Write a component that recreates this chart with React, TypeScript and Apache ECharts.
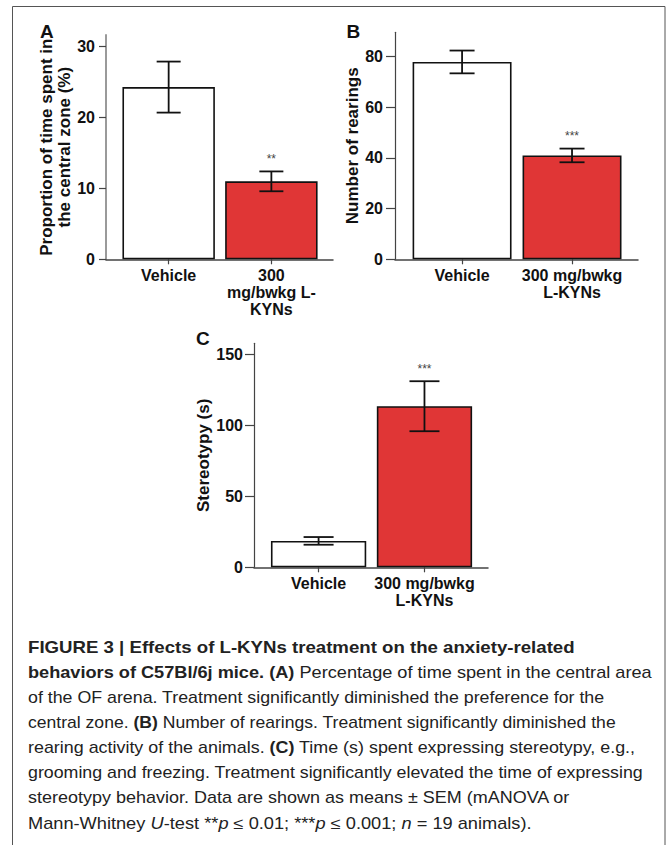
import React, { useEffect, useRef } from "react";
import * as echarts from "echarts";

// ---------- data ----------
const categories = ["Vehicle", "300 mg/bwkg L-KYNs"];
const xLabelsA = ["Vehicle", "300\nmg/bwkg L-\nKYNs"];
const xLabelsBC = ["Vehicle", "300 mg/bwkg\nL-KYNs"];

const meanA = [24.3, 11.0];
const semA = [3.6, 1.4];
const sigA = ["", "**"];
const yTicksA = [0, 10, 20, 30];

const meanB = [77.9, 41.0];
const semB = [4.5, 2.7];
const sigB = ["", "***"];
const yTicksB = [0, 20, 40, 60, 80];

const meanC = [18.6, 113.4];
const semC = [2.7, 17.6];
const sigC = ["", "***"];
const yTicksC = [0, 50, 100, 150];

const barColors = ["#ffffff", "#e03636"];

const captionLines: [string, string][][] = [
  [["b", "FIGURE 3 | Effects of L-KYNs treatment on the anxiety-related"]],
  [["b", "behaviors of C57Bl/6j mice. (A)"], ["n", " Percentage of time spent in the central area"]],
  [["n", "of the OF arena. Treatment significantly diminished the preference for the"]],
  [["n", "central zone. "], ["b", "(B)"], ["n", " Number of rearings. Treatment significantly diminished the"]],
  [["n", "rearing activity of the animals. "], ["b", "(C)"], ["n", " Time (s) spent expressing stereotypy, e.g.,"]],
  [["n", "grooming and freezing. Treatment significantly elevated the time of expressing"]],
  [["n", "stereotypy behavior. Data are shown as means \u00b1 SEM (mANOVA or"]],
  [
    ["n", "Mann-Whitney "], ["i", "U"], ["n", "-test **"], ["i", "p"], ["n", " \u2264 0.01; ***"],
    ["i", "p"], ["n", " \u2264 0.001; "], ["i", "n"], ["n", " = 19 animals)."],
  ],
];

// ---------- layout ----------
const FONT = '"Liberation Sans", Arial, Helvetica, sans-serif';
const CAP_SIZE = 16;
const captionX = 28;
const captionY0 = 647.5;
const captionStep = 25.07;
const captionEnds = [575, 651.7, 605, 616, 635.3, 643.3, 571, 531.7];

const panels = [
  {
    mean: meanA, sem: semA, sig: sigA, ticks: yTicksA, labels: xLabelsA,
    name: "Proportion of time spent in\nthe central zone (%)",
    grid: { left: 106, top: 35, width: 227, height: 224.3 },
    yMax: 31.65, interval: 10, nameGap: 31, yColor: "#9a9a9a", yWidth: 2,
    tickLen: 7, labelMargin: 11, cap: 24, starGap: 6,
  },
  {
    mean: meanB, sem: semB, sig: sigB, ticks: yTicksB, labels: xLabelsBC,
    name: "Number of rearings",
    grid: { left: 395, top: 32.3, width: 243, height: 227 },
    yMax: 89.6, interval: 20, nameGap: 32, yColor: "#444", yWidth: 1.2,
    tickLen: 9, labelMargin: 12, cap: 25, starGap: 7,
  },
  {
    mean: meanC, sem: semC, sig: sigC, ticks: yTicksC, labels: xLabelsBC,
    name: "Stereotypy (s)",
    grid: { left: 254, top: 343.3, width: 234, height: 224 },
    yMax: 157.7, interval: 50, nameGap: 41, yColor: "#444", yWidth: 1.2,
    tickLen: 9, labelMargin: 11, cap: 30, starGap: 6,
  },
];

const panelLetters = [
  { t: "A", x: 40, y: 22 },
  { t: "B", x: 346.5, y: 22 },
  { t: "C", x: 196, y: 329 },
];

function fontFor(kind: string) {
  const w = kind === "b" ? "bold " : "";
  const s = kind === "i" ? "italic " : "";
  return `${s}${w}${CAP_SIZE}px ${FONT}`;
}

export default function App() {
  const ref = useRef<HTMLDivElement>(null);

  useEffect(() => {
    if (!ref.current) return;
    const chart = echarts.init(ref.current, undefined, { renderer: "svg" });

    const canvas = document.createElement("canvas");
    const ctx = canvas.getContext("2d")!;

    const richBase = { fontSize: CAP_SIZE, fontFamily: FONT, lineHeight: 20 };
    const rich = {
      n: { ...richBase, color: "#222", fontWeight: "normal" },
      b: { ...richBase, color: "#111", fontWeight: "bold" },
      i: { ...richBase, color: "#222", fontStyle: "italic" },
    };

    const captionGraphics = captionLines.map((segs, li) => {
      let w = 0;
      segs.forEach(([k, t]) => {
        ctx.font = fontFor(k);
        w += ctx.measureText(t).width;
      });
      const target = captionEnds[li] - captionX;
      const text = segs.map(([k, t]) => `{${k}|${t}}`).join("");
      return {
        type: "text",
        x: captionX,
        y: captionY0 + li * captionStep,
        scaleX: w > 0 ? target / w : 1,
        silent: true,
        style: {
          text,
          rich,
          fontSize: CAP_SIZE,
          fontFamily: FONT,
          fill: "#222",
          align: "left",
          verticalAlign: "middle",
          textAlign: "left",
          textVerticalAlign: "middle",
        },
      };
    });

    const grids = panels.map((p) => ({ ...p.grid, containLabel: false, outerBoundsMode: "none" }));

    const xAxes = panels.map((p, i) => ({
      type: "value",
      gridIndex: i,
      min: 0.39,
      max: 2.6,
      splitLine: { show: false },
      axisLine: { show: true, lineStyle: { color: "#444", width: 1.5 } },
      axisTick: { show: true, customValues: [1, 2], length: 5, lineStyle: { color: "#444", width: 1.2 } },
      axisLabel: {
        show: true,
        customValues: [1, 2],
        formatter: (v: number) => p.labels[Math.round(v) - 1] ?? "",
        fontFamily: FONT,
        fontWeight: "bold",
        fontSize: 16,
        lineHeight: 17,
        color: "#111",
        margin: 8,
      },
    }));

    const yAxes = panels.map((p, i) => ({
      type: "value",
      gridIndex: i,
      min: 0,
      max: p.yMax,
      interval: p.interval,
      name: p.name,
      nameLocation: "middle",
      nameGap: p.nameGap,
      nameTextStyle: {
        fontFamily: FONT,
        fontWeight: "bold",
        fontSize: 17,
        lineHeight: 18,
        color: "#111",
      },
      splitLine: { show: false },
      axisLine: { show: true, lineStyle: { color: p.yColor, width: p.yWidth } },
      axisTick: { show: true, customValues: p.ticks, length: p.tickLen, lineStyle: { color: "#444", width: 1.2 } },
      axisLabel: {
        show: true,
        customValues: p.ticks,
        fontFamily: FONT,
        fontWeight: "bold",
        fontSize: 16,
        color: "#111",
        margin: p.labelMargin,
      },
    }));

    const series: any[] = [];
    panels.forEach((p, i) => {
      series.push({
        type: "bar",
        xAxisIndex: i,
        yAxisIndex: i,
        barWidth: "90%",
        data: p.mean.map((m, j) => ({
          name: categories[j],
          value: [j + 1, m],
          itemStyle: { color: barColors[j], borderColor: "#111", borderWidth: 1.6 },
        })),
        z: 2,
      });
      series.push({
        type: "custom",
        coordinateSystem: "cartesian2d",
        xAxisIndex: i,
        yAxisIndex: i,
        z: 5,
        encode: { x: 0, y: [1, 2] },
        data: p.mean.map((m, j) => [j + 1, m - p.sem[j], m + p.sem[j]]),
        renderItem: (params: any, api: any) => {
          const x = api.value(0);
          const lo = api.value(1);
          const hi = api.value(2);
          const top = api.coord([x, hi]);
          const bot = api.coord([x, lo]);
          const h = p.cap / 2;
          const ls = { stroke: "#111", lineWidth: 1.8 };
          const star = p.sig[params.dataIndex];
          const children: any[] = [
            { type: "line", shape: { x1: top[0], y1: top[1], x2: bot[0], y2: bot[1] }, style: ls },
            { type: "line", shape: { x1: top[0] - h, y1: top[1], x2: top[0] + h, y2: top[1] }, style: ls },
            { type: "line", shape: { x1: bot[0] - h, y1: bot[1], x2: bot[0] + h, y2: bot[1] }, style: ls },
          ];
          if (star) {
            children.push({
              type: "text",
              x: top[0],
              y: top[1] - p.starGap,
              style: {
                text: star,
                fontFamily: FONT,
                fontSize: 12,
                fill: "#444",
                align: "center",
                verticalAlign: "bottom",
                textAlign: "center",
                textVerticalAlign: "bottom",
              },
            });
          }
          return { type: "group", children };
        },
      });
    });

    const letterGraphics = panelLetters.map((l) => ({
      type: "text",
      x: l.x,
      y: l.y,
      silent: true,
      style: {
        text: l.t,
        fontFamily: FONT,
        fontWeight: "bold",
        fontSize: 19,
        fill: "#111",
        align: "left",
        verticalAlign: "top",
        textAlign: "left",
        textVerticalAlign: "top",
      },
    }));

    chart.setOption({
      animation: false,
      backgroundColor: "#ffffff",
      textStyle: { fontFamily: FONT },
      grid: grids,
      xAxis: xAxes,
      yAxis: yAxes,
      series,
      graphic: [
        {
          type: "rect",
          silent: true,
          shape: { x: 12.5, y: 6.5, width: 652.5, height: 860 },
          style: { fill: "none", stroke: "#555", lineWidth: 1 },
          z: -1,
        },
        ...letterGraphics,
        ...captionGraphics,
      ],
    });

    return () => chart.dispose();
  }, []);

  return (
    <div
      ref={ref}
      style={{ position: "absolute", left: 0, top: 0, width: 667, height: 845 }}
    />
  );
}
